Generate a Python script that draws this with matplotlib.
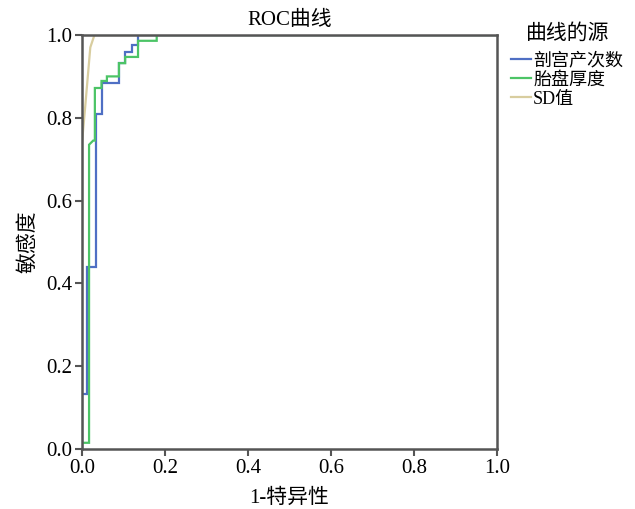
import matplotlib
matplotlib.use('Agg')
import matplotlib.pyplot as plt

plt.rcParams['font.family'] = ['Liberation Serif', 'Noto Sans CJK SC', 'DejaVu Sans']

# ROC step curves (1-specificity, sensitivity)
fpr_cs = [0, 0, 0.012, 0.012, 0.034, 0.034, 0.047, 0.047, 0.09, 0.09, 0.104, 0.104, 0.12, 0.12, 0.135, 0.135, 1.0]
tpr_cs = [0, 0.133, 0.133, 0.44, 0.44, 0.81, 0.81, 0.884, 0.884, 0.932, 0.932, 0.958, 0.958, 0.976, 0.976, 1.0, 1.0]

fpr_pt = [0, 0, 0.017, 0.017, 0.027, 0.031, 0.031, 0.047, 0.047, 0.06, 0.06, 0.089, 0.089, 0.104, 0.104, 0.135, 0.135, 0.18, 0.18, 1.0]
tpr_pt = [0, 0.015, 0.015, 0.735, 0.745, 0.745, 0.872, 0.872, 0.889, 0.889, 0.90, 0.90, 0.932, 0.932, 0.947, 0.947, 0.986, 0.986, 1.0, 1.0]

fpr_sd = [0, 0, 0.008, 0.02, 0.03, 1.0]
tpr_sd = [0, 0.74, 0.83, 0.97, 1.0, 1.0]

labels = ['剖宫产次数', '胎盘厚度', 'SD值']
colors = ['#4f6fc4', '#4cc466', '#d8cd9f']
ticks = [0.0, 0.2, 0.4, 0.6, 0.8, 1.0]

fig = plt.figure(figsize=(6.35, 5.09), dpi=100)
ax = fig.add_axes([82 / 635, 1 - 449 / 509, 415 / 635, 414 / 509])

for fx, ty, lab, c in zip([fpr_cs, fpr_pt, fpr_sd], [tpr_cs, tpr_pt, tpr_sd], labels, colors):
    ax.plot(fx, ty, color=c, lw=1.6, label=lab, solid_joinstyle='miter')

ax.set_xlim(0, 1)
ax.set_ylim(0, 1)
ax.set_xticks(ticks)
ax.set_yticks(ticks)
ax.set_xticklabels([f'{t:.1f}' for t in ticks])
ax.set_yticklabels([f'{t:.1f}' for t in ticks])
ax.tick_params(direction='out', length=5, width=1.5, color='#555555', labelsize=15, pad=2)
for s in ax.spines.values():
    s.set_color('#555555')
    s.set_linewidth(1.8)

ax.set_title('ROC曲线', fontsize=15, pad=7)
ax.set_xlabel('1-特异性', fontsize=15, labelpad=8)
ax.set_ylabel('敏感度', fontsize=15, labelpad=6)

leg = ax.legend(loc='upper left', bbox_to_anchor=(504 / 635, 1 - 17 / 509),
                bbox_transform=fig.transFigure, frameon=False, title='曲线的源',
                fontsize=13, title_fontsize=15, handlelength=1.1, handletextpad=0.12,
                labelspacing=0.12, borderaxespad=0)
leg._legend_box.sep = 6

fig.savefig('out.png', dpi=100)
